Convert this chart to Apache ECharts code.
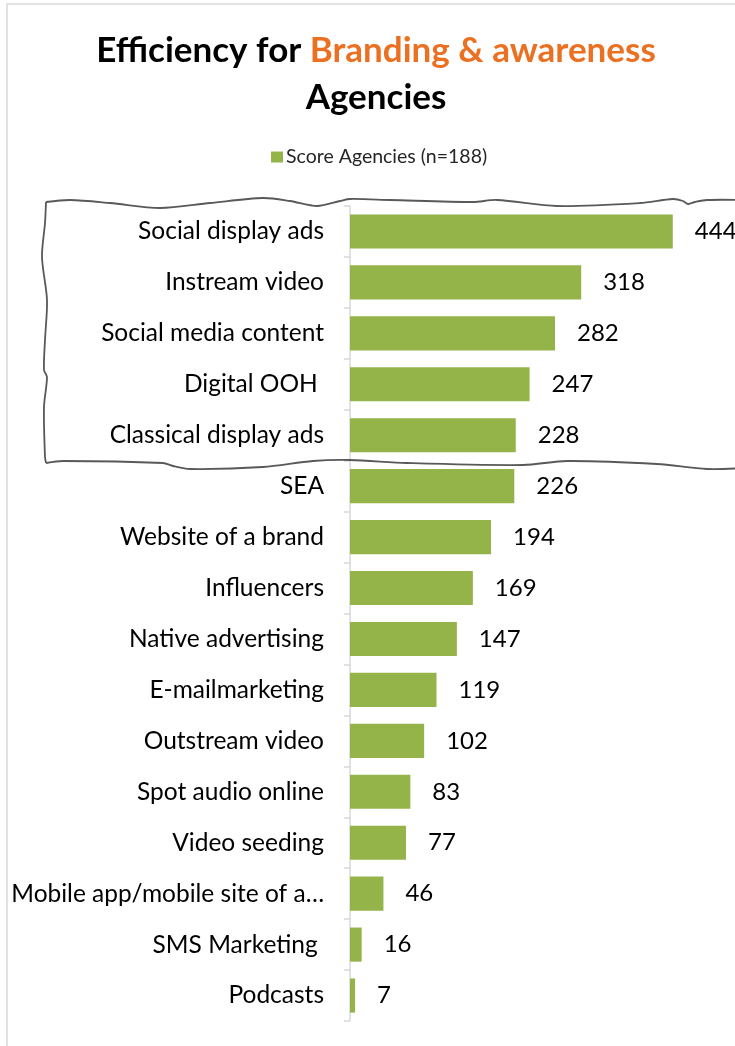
<!DOCTYPE html>
<html>
<head>
<meta charset="utf-8">
<script src="https://cdn.jsdelivr.net/npm/echarts@6/dist/echarts.min.js"></script>
<style>
html,body{margin:0;padding:0;background:#fff;}
#chart{width:735px;height:1046px;}
</style>
</head>
<body>
<div id="chart"></div>
<script>
const categories = [
  'Social display ads','Instream video','Social media content','Digital OOH ',
  'Classical display ads','SEA','Website of a brand','Influencers',
  'Native advertising','E-mailmarketing','Outstream video','Spot audio online',
  'Video seeding','Mobile app/mobile site of a\u2026','SMS Marketing ','Podcasts'
];
const scores = [444,318,282,247,228,226,194,169,147,119,102,83,77,46,16,7];
const seriesName = 'Score Agencies (n=188)';
const titleBlack = 'Efficiency for ';
const titleOrange = 'Branding & awareness';
const titleLine2 = 'Agencies';

const FONT = 'Lato';
const chart = echarts.init(document.getElementById('chart'), null, {renderer:'canvas'});

const topWave = [[46,202],[70,200],[110,203],[160,208],[210,203],[263,198],[290,201],[317,206],[340,201],[350,199],[390,200],[473,202],[497,200],[557,206],[640,203],[673,199],[683,201],[688,204],[695,202],[707,200],[745,200]];
const leftWave = [[46,202],[45,223],[42,257],[47,300],[45,340],[44,370],[47,377],[44,407],[45,457],[46,463]];
const bottomWave = [[46,463],[63,461],[163,463],[173,466],[190,469],[263,467],[313,461],[350,460],[407,463],[523,465],[567,461],[657,464],[707,469],[745,468]];

const waveStyle = {stroke:'#595959', lineWidth:1.8, fill:null};

chart.setOption({
  animation:false,
  backgroundColor:'#ffffff',
  title:[{
    left:376, top:33, textAlign:'center', padding:0,
    text:'{a|'+titleBlack+'}{b|'+titleOrange+'}',
    textStyle:{rich:{
      a:{fontFamily:FONT,fontWeight:'bold',fontSize:35,color:'#000000'},
      b:{fontFamily:FONT,fontWeight:'bold',fontSize:35,color:'#EB7022'}
    }}
  },{
    left:376, top:80, textAlign:'center', padding:0,
    text:titleLine2,
    textStyle:{fontFamily:FONT,fontWeight:'bold',fontSize:35,color:'#000000'}
  }],
  legend:{
    left:271, top:147, padding:0,
    itemWidth:12, itemHeight:11, itemGap:4,
    icon:'rect',
    textStyle:{fontFamily:FONT,fontSize:19.5,color:'#262626',padding:[0,0,0,-2]},
    data:[seriesName]
  },
  grid:{left:350, right:21.5, top:206, bottom:25, containLabel:false},
  xAxis:{type:'value',min:0,max:500,show:false,splitLine:{show:false}},
  yAxis:{
    type:'category', inverse:true, data:categories,
    axisLine:{show:true,lineStyle:{color:'#D9D9D9',width:1.5}},
    axisTick:{show:true,length:6,lineStyle:{color:'#D9D9D9',width:1.5}},
    axisLabel:{margin:26,fontFamily:FONT,fontSize:24.5,color:'#000000'},
    splitLine:{show:false}
  },
  series:[{
    name:seriesName, type:'bar', data:scores,
    barCategoryGap:'33%',
    itemStyle:{color:'#94B44A'},
    label:{show:true,position:'right',distance:22,fontFamily:FONT,fontSize:24,color:'#000000'}
  }],
  graphic:[
    {type:'rect',shape:{x:7,y:4,width:760,height:1060},style:{stroke:'#D9D9D9',lineWidth:1.5,fill:null},silent:true,z:-1},
    {type:'polyline',shape:{points:topWave,smooth:0.3},style:waveStyle,silent:true,z:100},
    {type:'polyline',shape:{points:leftWave,smooth:0.3},style:waveStyle,silent:true,z:100},
    {type:'polyline',shape:{points:bottomWave,smooth:0.3},style:waveStyle,silent:true,z:100}
  ]
});
</script>
</body>
</html>
